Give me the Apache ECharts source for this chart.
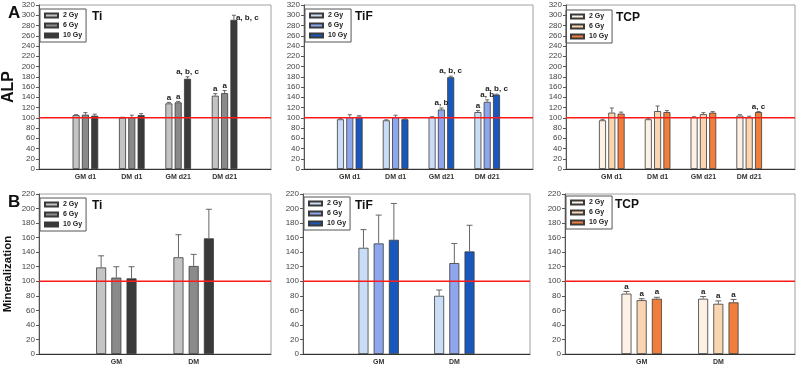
<!DOCTYPE html>
<html>
<head>
<meta charset="utf-8">
<script src="https://cdn.jsdelivr.net/npm/echarts@6/dist/echarts.min.js"></script>
<style>
  html, body { margin: 0; padding: 0; background: #fff; }
  #chart { width: 800px; height: 369px; }
</style>
</head>
<body>
<div id="chart"></div>
<script>
// categories (empty ends give the padding seen on either side of the groups)
const catsA = ['', 'GM d1', 'DM d1', 'GM d21', 'DM d21', '']
const catsB = ['', 'GM', 'DM', '']
const doses = ['2 Gy', '6 Gy', '10 Gy']
const ticksA = { min: 0, max: 320, interval: 20 }
const ticksB = { min: 0, max: 220, interval: 20 }
const controlLevel = 100

// A: ALP, rows = dose (2, 6, 10 Gy), columns = GM d1, DM d1, GM d21, DM d21
const tiAlp = [[105, 100, 128, 143], [106, 101, 130, 148], [104, 105, 176, 291]]
const tiAlpErr = [[1, 1, 2, 4], [4, 4, 2, 5], [3, 3, 4, 9]]
const tiAlpSig = [['', '', 'a', 'a'], ['', '', 'a', 'a'], ['', '', 'a, b, c', 'a, b, c']]

const tifAlp = [[97, 95, 101, 111], [101, 101, 116, 131], [102, 97, 179, 145]]
const tifAlpErr = [[2, 1, 1, 3], [5, 4, 3, 4], [2, 1, 2, 1]]
const tifAlpSig = [['', '', '', 'a'], ['', '', 'a, b', 'a, b'], ['', '', 'a, b, c', 'a, b, c']]

const tcpAlp = [[95, 97, 101, 104], [110, 113, 107, 101], [108, 111, 110, 111]]
const tcpAlpErr = [[2, 1, 1, 2], [9, 10, 3, 2], [3, 3, 2, 1]]
const tcpAlpSig = [['', '', '', ''], ['', '', '', ''], ['', '', '', 'a, c']]

// B: mineralization, columns = GM, DM
const tiMin = [[119, 133], [105, 121], [104, 159]]
const tiMinErr = [[16, 31], [15, 16], [16, 40]]
const tiMinSig = [['', ''], ['', ''], ['', '']]

const tifMin = [[146, 80], [152, 125], [157, 141]]
const tifMinErr = [[25, 8], [39, 27], [50, 36]]
const tifMinSig = [['', ''], ['', ''], ['', '']]

const tcpMin = [[83, 76], [74, 69], [76, 71]]
const tcpMinErr = [[3, 3], [2, 4], [2, 4]]
const tcpMinSig = [['a', 'a'], ['a', 'a'], ['a', 'a']]

const palettes = {
  Ti: ['#c4c4c4', '#8a8a8a', '#3a3a3a'],
  TiF: ['#c9def6', '#8ea6ee', '#1858bd'],
  TCP: ['#fdf1e6', '#fad5b1', '#f07f3e']
}

const panels = [
  { key: 'Ti', grid: { left: 39, top: 5, width: 232, height: 164 }, cats: catsA, ticks: ticksA, vals: tiAlp, errs: tiAlpErr, sig: tiAlpSig, row: 0, yName: 'ALP', legendTop: 9, legendLeft: 40, titleTop: 6, titleLeft: 87 },
  { key: 'TiF', grid: { left: 304, top: 5, width: 229, height: 164 }, cats: catsA, ticks: ticksA, vals: tifAlp, errs: tifAlpErr, sig: tifAlpSig, row: 0, legendTop: 9, legendLeft: 305, titleTop: 6, titleLeft: 350 },
  { key: 'TCP', grid: { left: 566, top: 5, width: 229, height: 164 }, cats: catsA, ticks: ticksA, vals: tcpAlp, errs: tcpAlpErr, sig: tcpAlpSig, row: 0, legendTop: 10, legendLeft: 566, titleTop: 7, titleLeft: 611 },
  { key: 'Ti', grid: { left: 39, top: 194, width: 232, height: 160 }, cats: catsB, ticks: ticksB, vals: tiMin, errs: tiMinErr, sig: tiMinSig, row: 1, yName: 'Mineralization', legendTop: 198, legendLeft: 40, titleTop: 195, titleLeft: 87 },
  { key: 'TiF', grid: { left: 303, top: 194, width: 227, height: 160 }, cats: catsB, ticks: ticksB, vals: tifMin, errs: tifMinErr, sig: tifMinSig, row: 1, legendTop: 197, legendLeft: 304, titleTop: 195, titleLeft: 350 },
  { key: 'TCP', grid: { left: 565, top: 194, width: 230, height: 160 }, cats: catsB, ticks: ticksB, vals: tcpMin, errs: tcpMinErr, sig: tcpMinSig, row: 1, legendTop: 196, legendLeft: 566, titleTop: 194, titleLeft: 610 }
]

const FONT = 'Liberation Sans, Arial, sans-serif'

function errRender(off, capHalf, sigs, topLimit) {
  return function (params, api) {
    const x = api.value(0)
    const v = api.value(1)
    const e = api.value(2)
    const base = api.coord([x, v])
    const top = api.coord([x, v + e])
    const cx = base[0] + off
    const txt = sigs[params.dataIndex] || ''
    const nearTop = v + e > topLimit
    const children = [
      { type: 'line', shape: { x1: cx, y1: base[1], x2: cx, y2: top[1] }, style: { stroke: '#666', lineWidth: 1 } },
      { type: 'line', shape: { x1: cx - capHalf, y1: top[1], x2: cx + capHalf, y2: top[1] }, style: { stroke: '#666', lineWidth: 1 } }
    ]
    if (txt) {
      children.push({
        type: 'text',
        x: nearTop ? cx + 2 : cx,
        y: top[1] - 1,
        style: {
          text: txt,
          fill: '#222',
          font: 'bold 8px ' + FONT,
          align: nearTop ? 'left' : 'center',
          verticalAlign: nearTop ? 'top' : 'bottom'
        }
      })
    }
    return { type: 'group', children }
  }
}

const grid = []
const xAxis = []
const yAxis = []
const series = []
const legend = []
const title = [
  { text: 'A', left: 3, top: 0, textStyle: { fontSize: 17, fontWeight: 'bold', color: '#111', fontFamily: FONT } },
  { text: 'B', left: 3, top: 189, textStyle: { fontSize: 17, fontWeight: 'bold', color: '#111', fontFamily: FONT } }
]

panels.forEach((p, gi) => {
  const barW = p.row === 0 ? 7 : 10
  const gapPct = p.row === 0 ? 33 : 52
  const step = barW * (1 + gapPct / 100)
  grid.push(Object.assign({ show: true, borderColor: '#a0a0a0', borderWidth: 1, containLabel: false }, p.grid))
  xAxis.push({
    type: 'category', gridIndex: gi, data: p.cats, boundaryGap: false,
    axisLine: { lineStyle: { color: '#333', width: 1 } },
    axisTick: { show: false },
    axisLabel: { interval: 0, fontSize: 7, fontWeight: 'bold', color: '#333', margin: 5, fontFamily: FONT },
    splitLine: { show: false }
  })
  yAxis.push({
    type: 'value', gridIndex: gi, min: p.ticks.min, max: p.ticks.max, interval: p.ticks.interval,
    name: p.yName || '', nameLocation: 'middle', nameRotate: 90,
    nameGap: p.row === 0 ? 22 : 25,
    nameTextStyle: { fontSize: p.row === 0 ? 16 : 11.5, fontWeight: 'bold', color: '#111', fontFamily: FONT },
    axisLine: { show: true, lineStyle: { color: '#555' } },
    axisTick: { show: true, length: 3, lineStyle: { color: '#555' } },
    axisLabel: { fontSize: 8, color: '#444', margin: 4, fontFamily: FONT },
    splitLine: { show: false }
  })
  title.push({ text: p.key, left: p.titleLeft, top: p.titleTop, textStyle: { fontSize: 12, fontWeight: 'bold', color: '#111', fontFamily: FONT } })

  const names = doses.map(d => p.key + gi + '|' + d)
  legend.push({
    data: names, orient: 'vertical', left: p.legendLeft, top: p.legendTop,
    icon: 'rect', itemWidth: 13, itemHeight: 4, itemGap: 3,
    padding: [3, 4, 3, 4], borderColor: '#555', borderWidth: 1,
    selectedMode: false,
    formatter: n => n.split('|')[1],
    textStyle: { fontSize: 7, fontWeight: 'bold', color: '#222', fontFamily: FONT }
  })

  const pad = p.cats.length - 2
  doses.forEach((d, di) => {
    const barData = [null].concat(p.vals[di]).concat([null])
    series.push({
      name: names[di], type: 'bar', xAxisIndex: gi, yAxisIndex: gi,
      data: barData, barWidth: barW, barGap: gapPct + '%',
      itemStyle: { color: palettes[p.key][di], borderColor: '#3a3a3a', borderWidth: 0.8 },
      z: 2, animation: false
    })
  })
  doses.forEach((d, di) => {
    const errData = []
    for (let i = 0; i < pad; i++) errData.push([i + 1, p.vals[di][i], p.errs[di][i]])
    series.push({
      type: 'custom', xAxisIndex: gi, yAxisIndex: gi,
      renderItem: errRender((di - 1) * step, p.row === 0 ? 2 : 3, p.sig[di], p.ticks.max - 30),
      data: errData, encode: { x: 0, y: 1 }, z: 4, animation: false, silent: true
    })
  })
  // control reference line across the whole plot
  series.push({
    type: 'line', xAxisIndex: gi, yAxisIndex: gi,
    data: p.cats.map(() => controlLevel),
    symbol: 'none', silent: true, animation: false, z: 5,
    lineStyle: { color: '#ff1a1a', width: 1.3 }
  })
})

const chart = echarts.init(document.getElementById('chart'), null, { renderer: 'canvas' })
chart.setOption({
  backgroundColor: '#fff',
  animation: false,
  textStyle: { fontFamily: FONT },
  title, grid, xAxis, yAxis, legend, series
})
</script>
</body>
</html>
